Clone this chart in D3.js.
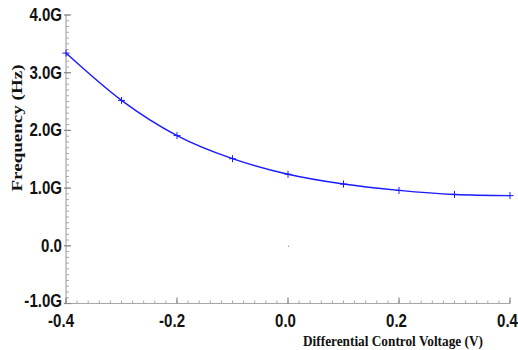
<!DOCTYPE html>
<html>
<head>
<meta charset="utf-8">
<script src="https://cdn.jsdelivr.net/npm/d3@7"></script>
<style>
  body { margin: 0; background: #fff; }
  .tick-label { font-family: "Liberation Sans Narrow", "Liberation Sans", Arial, sans-serif; font-weight: bold; font-size: 17.5px; fill: #111; }
  .axis-title { font-family: "Liberation Serif", "Times New Roman", serif; font-weight: bold; font-size: 14px; fill: #111; }
</style>
</head>
<body>
<svg id="chart" width="518" height="350"></svg>
<script>
// data
const voltage = [-0.4, -0.3, -0.2, -0.1, 0.0, 0.1, 0.2, 0.3, 0.4];
const freqG = [3.34, 2.52, 1.91, 1.51, 1.24, 1.07, 0.96, 0.89, 0.87];
const xTicks = [-0.4, -0.2, 0.0, 0.2, 0.4];
const xTickLabels = ["-0.4", "-0.2", "0.0", "0.2", "0.4"];
const yTicks = [4, 3, 2, 1, 0, -1];
const yTickLabels = ["4.0G", "3.0G", "2.0G", "1.0G", "0.0", "-1.0G"];

const svg = d3.select('#chart');
const x = d3.scaleLinear().domain([-0.4, 0.4]).range([66, 510]);
const y = d3.scaleLinear().domain([-1, 4]).range([303.5, 15]);

const axisColor = '#a8a8a8';

// axis lines
svg.append('line').attr('x1', x(-0.4)).attr('x2', x(-0.4)).attr('y1', y(4)).attr('y2', y(-1))
  .attr('stroke', axisColor).attr('stroke-width', 1.2);
svg.append('line').attr('x1', x(-0.4)).attr('x2', x(0.4)).attr('y1', y(-1)).attr('y2', y(-1))
  .attr('stroke', axisColor).attr('stroke-width', 1.2);

// minor ticks
const xMinor = d3.range(-0.4, 0.4001, 0.02);
svg.selectAll('.xminor').data(xMinor).enter().append('line')
  .attr('x1', d => x(d)).attr('x2', d => x(d))
  .attr('y1', y(-1)).attr('y2', y(-1) - 3)
  .attr('stroke', axisColor).attr('stroke-width', 1);
const yMinor = d3.range(-1, 4.001, 0.1);
svg.selectAll('.yminor').data(yMinor).enter().append('line')
  .attr('x1', x(-0.4)).attr('x2', x(-0.4) + 3)
  .attr('y1', d => y(d)).attr('y2', d => y(d))
  .attr('stroke', axisColor).attr('stroke-width', 1);

// major ticks
svg.selectAll('.xmajor').data(xTicks).enter().append('line')
  .attr('x1', d => x(d)).attr('x2', d => x(d))
  .attr('y1', y(-1)).attr('y2', y(-1) - 6)
  .attr('stroke', '#888').attr('stroke-width', 1.2);
svg.selectAll('.ymajor').data(yTicks).enter().append('line')
  .attr('x1', x(-0.4) - 2).attr('x2', x(-0.4) + 5)
  .attr('y1', d => y(d)).attr('y2', d => y(d))
  .attr('stroke', '#888').attr('stroke-width', 1.2);

// tick labels (narrow bold face, squeezed horizontally)
svg.selectAll('.xlab').data(xTicks).enter().append('text')
  .attr('class', 'tick-label')
  .attr('transform', d => `translate(${x(d) + 8},326.5) scale(0.86,1)`)
  .attr('text-anchor', 'end')
  .text((d, i) => xTickLabels[i]);
svg.selectAll('.ylab').data(yTicks).enter().append('text')
  .attr('class', 'tick-label')
  .attr('transform', d => `translate(62,${y(d) + (d === -1 ? 3 : 6)}) scale(0.86,1)`)
  .attr('text-anchor', 'end')
  .text((d, i) => yTickLabels[i]);

// axis titles
svg.append('text').attr('class', 'axis-title')
  .attr('transform', 'translate(22,128) rotate(-90)')
  .attr('text-anchor', 'middle')
  .attr('textLength', 127).attr('lengthAdjust', 'spacingAndGlyphs')
  .text('Frequency (Hz)');
svg.append('text').attr('class', 'axis-title')
  .attr('x', 303).attr('y', 346)
  .attr('textLength', 180).attr('lengthAdjust', 'spacingAndGlyphs')
  .text('Differential Control Voltage (V)');

// series line
const pts = voltage.map((v, i) => ({v: v, f: freqG[i]}));
svg.append('path').datum(pts)
  .attr('fill', 'none').attr('stroke', '#1a1aff').attr('stroke-width', 1.4)
  .attr('d', d3.line().x(d => x(d.v)).y(d => y(d.f)).curve(d3.curveMonotoneX));

// plus markers
const mk = svg.selectAll('.mk').data(pts).enter().append('g')
  .attr('transform', d => `translate(${x(d.v)},${y(d.f)})`);
mk.append('line').attr('x1', -3.5).attr('x2', 3.5).attr('y1', 0).attr('y2', 0)
  .attr('stroke', '#1a1aff').attr('stroke-width', 1);
mk.append('line').attr('x1', 0).attr('x2', 0).attr('y1', -3.5).attr('y2', 3.5)
  .attr('stroke', '#1a1aff').attr('stroke-width', 1);

// small origin dot
svg.append('rect').attr('x', x(0)).attr('y', y(0)).attr('width', 1).attr('height', 1)
  .attr('fill', '#6a6aff');
</script>
</body>
</html>
